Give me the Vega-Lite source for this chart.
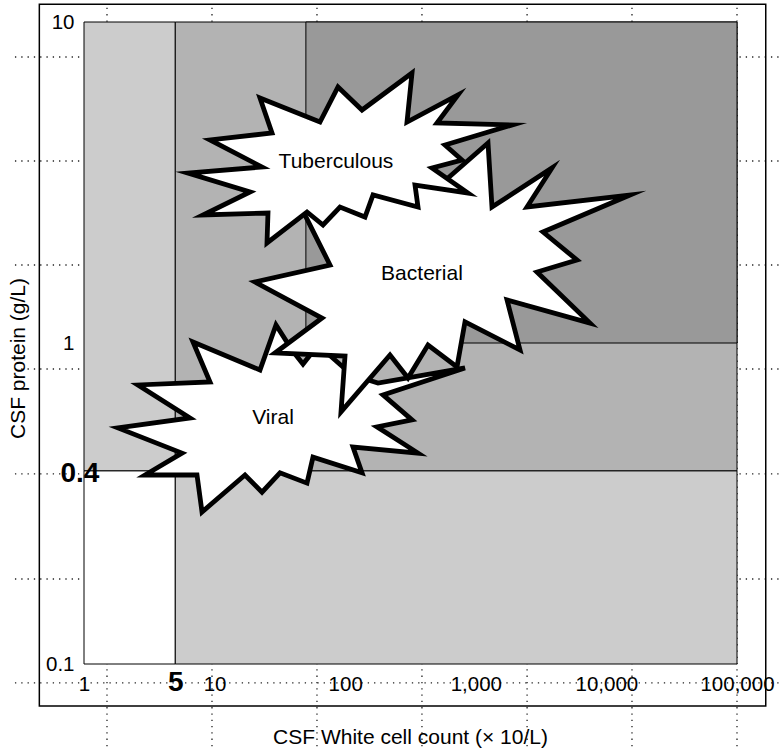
{
  "$schema": "https://vega.github.io/schema/vega-lite/v6.json",
  "width": 653,
  "height": 642,
  "autosize": {"type": "none"},
  "padding": {"left": 84, "top": 22, "right": 43, "bottom": 87},
  "background": "white",
  "config": {"view": {"stroke": null}, "font": "Liberation Sans"},
  "datasets": {
    "stars": [
      {"star": "Viral", "i": 1, "wbc": 6.833, "protein": 1.007},
      {"star": "Viral", "i": 2, "wbc": 22.26, "protein": 0.824},
      {"star": "Viral", "i": 3, "wbc": 29.52, "protein": 1.138},
      {"star": "Viral", "i": 4, "wbc": 39.14, "protein": 0.951},
      {"star": "Viral", "i": 5, "wbc": 47.53, "protein": 0.86},
      {"star": "Viral", "i": 6, "wbc": 61.9, "protein": 0.986},
      {"star": "Viral", "i": 7, "wbc": 112.7, "protein": 0.795},
      {"star": "Viral", "i": 8, "wbc": 178.3, "protein": 0.75},
      {"star": "Viral", "i": 9, "wbc": 826.6, "protein": 0.836},
      {"star": "Viral", "i": 10, "wbc": 194.8, "protein": 0.689},
      {"star": "Viral", "i": 11, "wbc": 324.8, "protein": 0.576},
      {"star": "Viral", "i": 12, "wbc": 175.2, "protein": 0.548},
      {"star": "Viral", "i": 13, "wbc": 360.9, "protein": 0.454},
      {"star": "Viral", "i": 14, "wbc": 114.7, "protein": 0.474},
      {"star": "Viral", "i": 15, "wbc": 134.5, "protein": 0.394},
      {"star": "Viral", "i": 16, "wbc": 56.67, "protein": 0.441},
      {"star": "Viral", "i": 17, "wbc": 51.0, "protein": 0.366},
      {"star": "Viral", "i": 18, "wbc": 31.68, "protein": 0.394},
      {"star": "Viral", "i": 19, "wbc": 23.07, "protein": 0.343},
      {"star": "Viral", "i": 20, "wbc": 17.09, "protein": 0.388},
      {"star": "Viral", "i": 21, "wbc": 8.009, "protein": 0.2975},
      {"star": "Viral", "i": 22, "wbc": 7.331, "protein": 0.388},
      {"star": "Viral", "i": 23, "wbc": 2.932, "protein": 0.388},
      {"star": "Viral", "i": 24, "wbc": 5.628, "protein": 0.454},
      {"star": "Viral", "i": 25, "wbc": 1.821, "protein": 0.544},
      {"star": "Viral", "i": 26, "wbc": 6.48, "protein": 0.584},
      {"star": "Viral", "i": 27, "wbc": 2.591, "protein": 0.74},
      {"star": "Viral", "i": 28, "wbc": 9.222, "protein": 0.756},
      {"star": "Bacterial", "i": 1, "wbc": 1240, "protein": 4.198},
      {"star": "Bacterial", "i": 2, "wbc": 1330, "protein": 2.653},
      {"star": "Bacterial", "i": 3, "wbc": 3833, "protein": 3.51},
      {"star": "Bacterial", "i": 4, "wbc": 2466, "protein": 2.653},
      {"star": "Bacterial", "i": 5, "wbc": 15160, "protein": 2.891},
      {"star": "Bacterial", "i": 6, "wbc": 3270, "protein": 2.217},
      {"star": "Bacterial", "i": 7, "wbc": 5955, "protein": 1.814},
      {"star": "Bacterial", "i": 8, "wbc": 2942, "protein": 1.664},
      {"star": "Bacterial", "i": 9, "wbc": 7489, "protein": 1.154},
      {"star": "Bacterial", "i": 10, "wbc": 1734, "protein": 1.361},
      {"star": "Bacterial", "i": 11, "wbc": 2180, "protein": 0.951},
      {"star": "Bacterial", "i": 12, "wbc": 826.6, "protein": 1.163},
      {"star": "Bacterial", "i": 13, "wbc": 717.8, "protein": 0.842},
      {"star": "Bacterial", "i": 14, "wbc": 430.5, "protein": 0.986},
      {"star": "Bacterial", "i": 15, "wbc": 302.6, "protein": 0.778},
      {"star": "Bacterial", "i": 16, "wbc": 220.3, "protein": 0.918},
      {"star": "Bacterial", "i": 17, "wbc": 92.87, "protein": 0.61},
      {"star": "Bacterial", "i": 18, "wbc": 99.65, "protein": 0.911},
      {"star": "Bacterial", "i": 19, "wbc": 29.01, "protein": 0.931},
      {"star": "Bacterial", "i": 20, "wbc": 66.43, "protein": 1.196},
      {"star": "Bacterial", "i": 21, "wbc": 20.39, "protein": 1.549},
      {"star": "Bacterial", "i": 22, "wbc": 76.49, "protein": 1.75},
      {"star": "Bacterial", "i": 23, "wbc": 45.07, "protein": 2.691},
      {"star": "Bacterial", "i": 24, "wbc": 262.8, "protein": 3.22},
      {"star": "Bacterial", "i": 25, "wbc": 531.9, "protein": 3.106},
      {"star": "Tuberculous", "i": 1, "wbc": 22.26, "protein": 5.8},
      {"star": "Tuberculous", "i": 2, "wbc": 64.12, "protein": 4.88},
      {"star": "Tuberculous", "i": 3, "wbc": 88.07, "protein": 6.275},
      {"star": "Tuberculous", "i": 4, "wbc": 134.5, "protein": 5.319},
      {"star": "Tuberculous", "i": 5, "wbc": 324.8, "protein": 6.937},
      {"star": "Tuberculous", "i": 6, "wbc": 297.3, "protein": 4.88},
      {"star": "Tuberculous", "i": 7, "wbc": 730.6, "protein": 5.925},
      {"star": "Tuberculous", "i": 8, "wbc": 504.6, "protein": 4.845},
      {"star": "Tuberculous", "i": 9, "wbc": 1893, "protein": 4.776},
      {"star": "Tuberculous", "i": 10, "wbc": 581, "protein": 4.139},
      {"star": "Tuberculous", "i": 11, "wbc": 784.3, "protein": 3.716},
      {"star": "Tuberculous", "i": 12, "wbc": 461.9, "protein": 3.51},
      {"star": "Tuberculous", "i": 13, "wbc": 871.5, "protein": 2.933},
      {"star": "Tuberculous", "i": 14, "wbc": 342.4, "protein": 3.106},
      {"star": "Tuberculous", "i": 15, "wbc": 360.9, "protein": 2.653},
      {"star": "Tuberculous", "i": 16, "wbc": 163.3, "protein": 2.891},
      {"star": "Tuberculous", "i": 17, "wbc": 141.8, "protein": 2.469},
      {"star": "Tuberculous", "i": 18, "wbc": 91.24, "protein": 2.653},
      {"star": "Tuberculous", "i": 19, "wbc": 67.61, "protein": 2.331},
      {"star": "Tuberculous", "i": 20, "wbc": 51.0, "protein": 2.559},
      {"star": "Tuberculous", "i": 21, "wbc": 25.19, "protein": 2.049},
      {"star": "Tuberculous", "i": 22, "wbc": 25.63, "protein": 2.541},
      {"star": "Tuberculous", "i": 23, "wbc": 8.152, "protein": 2.505},
      {"star": "Tuberculous", "i": 24, "wbc": 18.66, "protein": 2.954},
      {"star": "Tuberculous", "i": 25, "wbc": 6.256, "protein": 3.385},
      {"star": "Tuberculous", "i": 26, "wbc": 23.07, "protein": 3.534},
      {"star": "Tuberculous", "i": 27, "wbc": 9.222, "protein": 4.29},
      {"star": "Tuberculous", "i": 28, "wbc": 27.51, "protein": 4.511}
    ]
  },
  "layer": [
    {
      "data": {"values": [{"wbc": 1.5}, {"wbc": 9.55}, {"wbc": 60.8}, {"wbc": 387}, {"wbc": 2470}, {"wbc": 15700}, {"wbc": 100000}]},
      "mark": {"type": "rule", "strokeDash": [1.3, 5], "strokeWidth": 1.3, "color": "#222222"},
      "encoding": {
        "x": {"field": "wbc", "type": "quantitative", "scale": {"type": "log", "domain": [1, 100000], "nice": false}},
        "y": {"datum": 0.053, "type": "quantitative", "scale": {"type": "log", "domain": [0.1, 10], "nice": false}},
        "y2": {"datum": 11.35}
      }
    },
    {
      "data": {"values": [{"protein": 7.78}, {"protein": 3.69}, {"protein": 1.75}, {"protein": 0.83}, {"protein": 0.391}, {"protein": 0.184}, {"protein": 0.0873}]},
      "mark": {"type": "rule", "strokeDash": [1.3, 5], "strokeWidth": 1.3, "color": "#222222"},
      "encoding": {
        "y": {"field": "protein", "type": "quantitative", "scale": {"type": "log", "domain": [0.1, 10], "nice": false}},
        "x": {"datum": 0.296, "type": "quantitative", "scale": {"type": "log", "domain": [1, 100000], "nice": false}},
        "x2": {"datum": 220000}
      }
    },
    {
      "data": {"values": [{}]},
      "mark": {"type": "rect", "fill": "transparent", "stroke": "black", "strokeWidth": 1.5},
      "encoding": {
        "x": {"datum": 0.455, "type": "quantitative", "scale": {"type": "log", "domain": [1, 100000], "nice": false}},
        "x2": {"datum": 166000},
        "y": {"datum": 11.35, "type": "quantitative", "scale": {"type": "log", "domain": [0.1, 10], "nice": false}},
        "y2": {"datum": 0.074}
      }
    },
    {
      "data": {"values": [
        {"zone": "normal", "wbc": 1, "wbc2": 5, "protein": 0.1, "protein2": 0.4},
        {"zone": "raised protein", "wbc": 1, "wbc2": 5, "protein": 0.4, "protein2": 10},
        {"zone": "raised cells", "wbc": 5, "wbc2": 100000, "protein": 0.1, "protein2": 0.4},
        {"zone": "both raised", "wbc": 5, "wbc2": 100000, "protein": 0.4, "protein2": 10},
        {"zone": "both high", "wbc": 50, "wbc2": 100000, "protein": 1, "protein2": 10}
      ]},
      "mark": {"type": "rect", "stroke": "black", "strokeWidth": 1},
      "encoding": {
        "x": {
          "field": "wbc", "type": "quantitative",
          "scale": {"type": "log", "domain": [1, 100000], "nice": false},
          "axis": {
            "title": "CSF White cell count (× 10/L)",
            "values": [1, 5, 10, 100, 1000, 10000, 100000],
            "labelExpr": "format(datum.value, ',')",
            "domain": false, "ticks": false, "tickSize": 0, "grid": false,
            "labelPadding": 26, "labelBaseline": "alphabetic", "labelAlign": "center",
            "labelFlush": false, "labelOverlap": false,
            "labelFont": "Liberation Sans", "labelColor": "black",
            "labelFontSize": {"condition": {"test": "datum.value == 5", "value": 28}, "value": 20.5},
            "labelFontWeight": {"condition": {"test": "datum.value == 5", "value": "bold"}, "value": "normal"},
            "titleFont": "Liberation Sans", "titleFontSize": 21, "titleFontWeight": "normal", "titleColor": "black",
            "titleX": 326, "titleY": 79, "titleBaseline": "alphabetic", "titleAlign": "center",
            "zindex": 1
          }
        },
        "x2": {"field": "wbc2"},
        "y": {
          "field": "protein", "type": "quantitative",
          "scale": {"type": "log", "domain": [0.1, 10], "nice": false},
          "axis": {
            "title": "CSF protein (g/L)",
            "values": [0.1, 0.4, 1, 10],
            "labelExpr": "format(datum.value, '~g')",
            "domain": false, "ticks": false, "tickSize": 0, "grid": false,
            "labelPadding": {"condition": {"test": "datum.value == 0.4", "value": 24}, "value": 10},
            "labelAlign": {"condition": {"test": "datum.value == 0.4", "value": "left"}, "value": "right"},
            "labelOffset": {"condition": {"test": "datum.value == 0.4", "value": 3}, "value": 0},
            "labelBaseline": "middle",
            "labelFlush": false, "labelOverlap": false,
            "labelFont": "Liberation Sans", "labelColor": "black",
            "labelFontSize": {"condition": {"test": "datum.value == 0.4", "value": 28}, "value": 20.5},
            "labelFontWeight": {"condition": {"test": "datum.value == 0.4", "value": "bold"}, "value": "normal"},
            "titleFont": "Liberation Sans", "titleFontSize": 21, "titleFontWeight": "normal", "titleColor": "black",
            "titleAngle": 270, "titleX": -60, "titleY": 336, "titleBaseline": "alphabetic", "titleAlign": "center",
            "zindex": 1
          }
        },
        "y2": {"field": "protein2"},
        "fill": {
          "field": "zone", "type": "nominal",
          "scale": {"domain": ["normal", "raised protein", "raised cells", "both raised", "both high"], "range": ["#ffffff", "#cccccc", "#cccccc", "#b3b3b3", "#999999"]},
          "legend": null
        }
      }
    },
    {
      "data": {"name": "stars"},
      "transform": [{"filter": "datum.star === 'Viral'"}],
      "mark": {"type": "line", "interpolate": "linear-closed", "fill": "white", "stroke": "black", "strokeWidth": 4.8, "strokeJoin": "miter", "strokeMiterLimit": 10},
      "encoding": {
        "x": {"field": "wbc", "type": "quantitative", "scale": {"type": "log", "domain": [1, 100000], "nice": false}},
        "y": {"field": "protein", "type": "quantitative", "scale": {"type": "log", "domain": [0.1, 10], "nice": false}},
        "order": {"field": "i", "type": "quantitative"}
      }
    },
    {
      "data": {"name": "stars"},
      "transform": [{"filter": "datum.star === 'Bacterial'"}],
      "mark": {"type": "line", "interpolate": "linear-closed", "fill": "white", "stroke": "black", "strokeWidth": 4.8, "strokeJoin": "miter", "strokeMiterLimit": 10},
      "encoding": {
        "x": {"field": "wbc", "type": "quantitative", "scale": {"type": "log", "domain": [1, 100000], "nice": false}},
        "y": {"field": "protein", "type": "quantitative", "scale": {"type": "log", "domain": [0.1, 10], "nice": false}},
        "order": {"field": "i", "type": "quantitative"}
      }
    },
    {
      "data": {"name": "stars"},
      "transform": [{"filter": "datum.star === 'Tuberculous'"}],
      "mark": {"type": "line", "interpolate": "linear-closed", "fill": "white", "stroke": "black", "strokeWidth": 4.8, "strokeJoin": "miter", "strokeMiterLimit": 10},
      "encoding": {
        "x": {"field": "wbc", "type": "quantitative", "scale": {"type": "log", "domain": [1, 100000], "nice": false}},
        "y": {"field": "protein", "type": "quantitative", "scale": {"type": "log", "domain": [0.1, 10], "nice": false}},
        "order": {"field": "i", "type": "quantitative"}
      }
    },
    {
      "data": {"values": [
        {"label": "Tuberculous", "wbc": 85, "protein": 3.66},
        {"label": "Bacterial", "wbc": 387, "protein": 1.64},
        {"label": "Viral", "wbc": 28, "protein": 0.582}
      ]},
      "mark": {"type": "text", "font": "Liberation Sans", "fontSize": 21, "color": "black", "align": "center", "baseline": "middle"},
      "encoding": {
        "x": {"field": "wbc", "type": "quantitative", "scale": {"type": "log", "domain": [1, 100000], "nice": false}},
        "y": {"field": "protein", "type": "quantitative", "scale": {"type": "log", "domain": [0.1, 10], "nice": false}},
        "text": {"field": "label", "type": "nominal"}
      }
    }
  ]
}
